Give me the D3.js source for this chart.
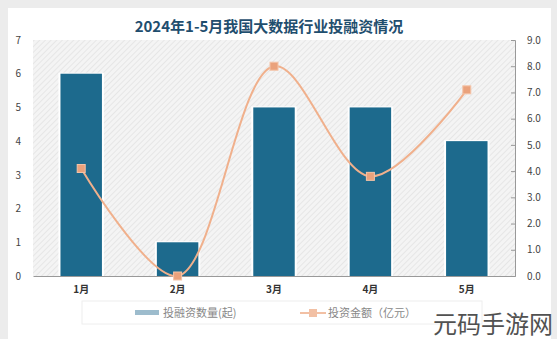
<!DOCTYPE html>
<html><head><meta charset="utf-8">
<script src="https://cdn.jsdelivr.net/npm/d3@7"></script>
<style>body{margin:0;background:#fff;}svg{display:block;}</style>
</head><body>
<svg id="c" width="557" height="339"></svg>
<script>
const categories = ["1月","2月","3月","4月","5月"];
const dealCounts = [6,1,5,5,4];
const amounts = [4.1,0.0,8.0,3.8,7.1];
const leftTicks = [0,1,2,3,4,5,6,7];
const rightTicks = [0,1,2,3,4,5,6,7,8,9];
const title = "2024年1-5月我国大数据行业投融资情况";
const legendLabels = ["投融资数量(起)","投资金额（亿元）"];
const watermark = "元码手游网";

const svg = d3.select("#c");
const W=557,H=339;
const font = "'Noto Sans CJK SC','Noto Sans',sans-serif";
// background
svg.append("rect").attr("width",W).attr("height",H).attr("fill","#ececec");
svg.append("rect").attr("x",8).attr("y",8).attr("width",W-14).attr("height",H-8).attr("fill","#fff");

const defs = svg.append("defs");
const pat = defs.append("pattern").attr("id","hatch").attr("patternUnits","userSpaceOnUse")
  .attr("width",4).attr("height",4).attr("patternTransform","rotate(45)");
pat.append("rect").attr("width",4).attr("height",4).attr("fill","#f4f4f4");
pat.append("line").attr("x1",0).attr("y1",0).attr("x2",0).attr("y2",4).attr("stroke","#dedede").attr("stroke-width",1.2);

const m = {l:33,r:515,t:40,b:276};
svg.append("rect").attr("x",m.l).attr("y",m.t).attr("width",m.r-m.l).attr("height",m.b-m.t).attr("fill","url(#hatch)");

const x = d3.scaleBand().domain(categories).range([m.l,m.r]).paddingInner(0.57).paddingOuter(0.285);
const yL = d3.scaleLinear().domain([0,7]).range([m.b,m.t]);
const yR = d3.scaleLinear().domain([0,9]).range([m.b,m.t]);

// title
svg.append("text").attr("x",269).attr("y",32).attr("text-anchor","middle")
  .attr("font-family",font).attr("font-weight","bold").attr("font-size",15).attr("fill","#1f4e6e").text(title);

// bars
const bars = categories.map((c,i)=>({c,v:dealCounts[i]}));
svg.append("g").selectAll("rect.s").data(bars).join("rect")
  .attr("x",d=>x(d.c)-2).attr("y",d=>yL(d.v)-1).attr("width",x.bandwidth()+4).attr("height",d=>m.b-yL(d.v)+1)
  .attr("fill","#ffffff");
svg.append("g").selectAll("rect.b").data(bars).join("rect")
  .attr("x",d=>x(d.c)).attr("y",d=>yL(d.v)).attr("width",x.bandwidth()).attr("height",d=>m.b-yL(d.v))
  .attr("fill","#1d6a8d");

// left axis
const gl = svg.append("g").attr("transform",`translate(${m.l},0)`)
  .call(d3.axisLeft(yL).tickValues(leftTicks).tickSize(0).tickPadding(12).tickFormat(d3.format("d")));
gl.select(".domain").remove();
gl.selectAll("text").attr("font-family",font).attr("font-size",10).attr("fill","#444");

// right axis
const gr = svg.append("g").attr("transform",`translate(${m.r},0)`)
  .call(d3.axisRight(yR).tickValues(rightTicks).tickSizeInner(-4).tickSizeOuter(-4).tickPadding(12).tickFormat(d3.format(".1f")));
gr.select(".domain").attr("stroke","#999");
gr.selectAll(".tick line").attr("stroke","#999");
gr.selectAll("text").attr("font-family",font).attr("font-size",10).attr("fill","#444");

// bottom axis
const gb = svg.append("g").attr("transform",`translate(0,${m.b})`)
  .call(d3.axisBottom(x).tickSize(0).tickPadding(10));
gb.select(".domain").attr("stroke","#999");
gb.selectAll("text").attr("font-family",font).attr("font-size",10).attr("font-weight","bold").attr("fill","#333");

// line
const pts = categories.map((c,i)=>({c,v:amounts[i]}));
const line = d3.line().x(d=>x(d.c)+x.bandwidth()/2).y(d=>yR(d.v)).curve(d3.curveCatmullRom.alpha(0.5));
svg.append("path").datum(pts).attr("d",line).attr("fill","none").attr("stroke","#f0b08c").attr("stroke-width",2);
svg.append("g").selectAll("rect").data(pts).join("rect")
  .attr("x",d=>x(d.c)+x.bandwidth()/2-4).attr("y",d=>yR(d.v)-4).attr("width",8).attr("height",8)
  .attr("fill","#eaa27c").attr("stroke","#f4c4a8").attr("stroke-width",1);

// legend
svg.append("rect").attr("x",82).attr("y",301).attr("width",400).attr("height",23).attr("fill","#fff").attr("stroke","#eeeeee");
svg.append("rect").attr("x",135).attr("y",310).attr("width",24).attr("height",5).attr("fill","#9dbccd");
svg.append("text").attr("x",163).attr("y",317).attr("font-family",font).attr("font-size",11).attr("fill","#888").text(legendLabels[0]);
svg.append("line").attr("x1",300).attr("x2",326).attr("y1",313).attr("y2",313).attr("stroke","#f2c0a4").attr("stroke-width",2);
svg.append("rect").attr("x",309).attr("y",309).attr("width",8).attr("height",8).attr("fill","#f2c0a4");
svg.append("text").attr("x",328).attr("y",317).attr("font-family",font).attr("font-size",11).attr("fill","#888").text(legendLabels[1]);

// watermark
svg.append("text").attr("x",433).attr("y",333).attr("font-family",font).attr("font-size",24).attr("fill","#333").attr("opacity",0.85).text(watermark);
</script>
</body></html>
